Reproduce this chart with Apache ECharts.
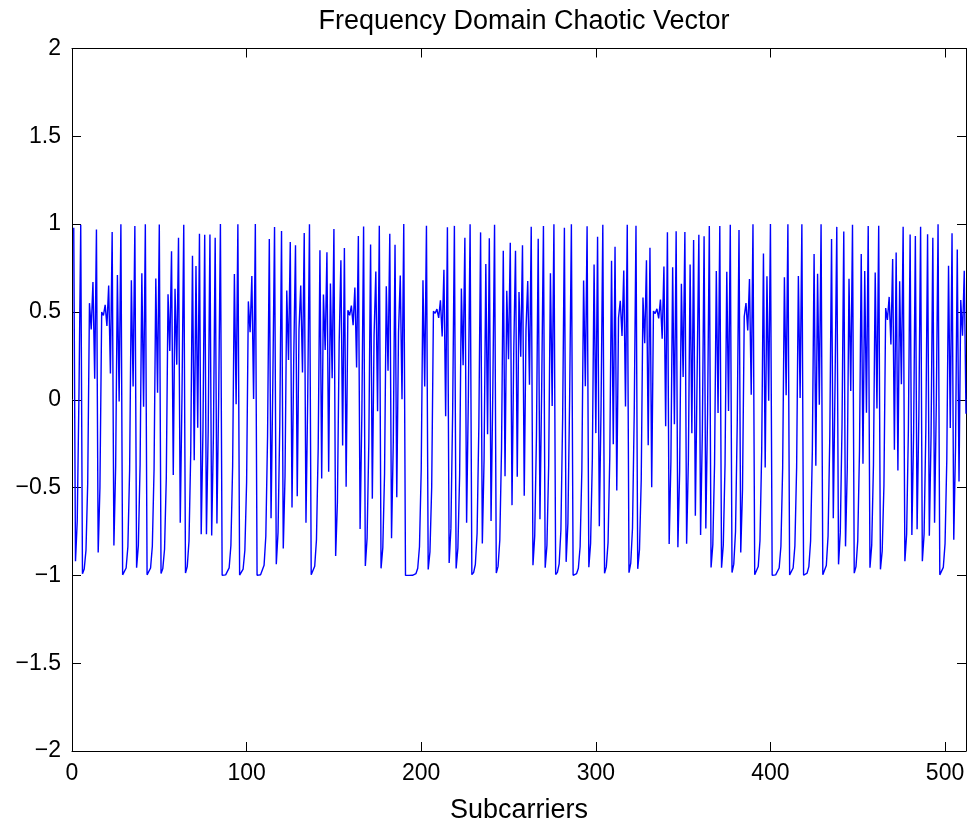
<!DOCTYPE html>
<html>
<head>
<meta charset="utf-8">
<title>Frequency Domain Chaotic Vector</title>
<script src="https://cdn.jsdelivr.net/npm/echarts@6/dist/echarts.min.js"></script>
<style>
  html, body { margin: 0; padding: 0; background: #ffffff; }
  #chart { width: 972px; height: 829px; }
</style>
</head>
<body>
<div id="chart"></div>
<script>
// Chaotic vector, one value per subcarrier (1..512)
const chaoticValues = [
  0.98, -0.92, -0.69, 0.04, 0.997, -0.991, -0.964, -0.858, -0.474, 0.55,
  0.40, 0.67, 0.12, 0.97, -0.87, -0.50, 0.50, 0.48, 0.54, 0.42,
  0.65, 0.15, 0.955, -0.83, -0.38, 0.71, -0.01, 0.999, -0.997, -0.99,
  -0.958, -0.837, -0.40, 0.68, 0.075, 0.989, -0.956, -0.83, -0.37, 0.72,
  -0.04, 0.999, -0.997, -0.9895, -0.958, -0.835, -0.394, 0.69, 0.04, 0.9975,
  -0.99, -0.9615, -0.851, -0.447, 0.60, 0.278, 0.845, -0.429, 0.632, 0.20,
  0.923, -0.70, 0.03, 0.997, -0.987, -0.95, -0.806, -0.30, 0.82, -0.345,
  0.762, -0.16, 0.945, -0.766, -0.174, 0.94, -0.766, -0.174, 0.9415, -0.773,
  -0.196, 0.923, -0.705, 0.005, 1.0, -0.9998, -0.9993, -0.997, -0.989, -0.957,
  -0.83, -0.377, 0.716, -0.025, 0.9994, -0.998, -0.991, -0.964, -0.857, -0.469,
  0.56, 0.384, 0.705, 0.005, 1.0, -0.9998, -0.9991, -0.9964, -0.9856, -0.943,
  -0.777, -0.206, 0.915, -0.675, 0.089, 0.984, -0.937, -0.755, -0.14, 0.961,
  -0.847, -0.435, 0.622, 0.226, 0.898, -0.614, 0.245, 0.88, -0.55, 0.40,
  0.65, 0.155, 0.95, -0.70, 0.02, 0.999, -0.997, -0.987, -0.948, -0.798,
  -0.274, 0.851, -0.448, 0.599, 0.283, 0.84, -0.41, 0.6625, 0.122, 0.972,
  -0.89, -0.583, 0.321, 0.794, -0.26, 0.864, -0.4955, 0.509, 0.481, 0.536,
  0.425, 0.639, 0.184, 0.932, -0.736, -0.083, 0.986, -0.946, -0.788, -0.241,
  0.884, -0.563, 0.367, 0.73, -0.066, 0.991, -0.96, -0.843, -0.421, 0.646,
  0.165, 0.9455, -0.788, -0.243, 0.882, -0.555, 0.383, 0.707, 0.003, 1.0,
  -1.0, -1.0, -1.0, -0.9998, -0.9994, -0.9974, -0.9898, -0.9593, -0.837, -0.40,
  0.68, 0.075, 0.991, -0.966, -0.866, -0.498, 0.504, 0.492, 0.516, 0.466,
  0.566, 0.36, 0.74, -0.094, 0.982, -0.93, -0.731, -0.07, 0.99, -0.961,
  -0.845, -0.428, 0.634, 0.196, 0.923, -0.70, 0.02, 0.999, -0.996, -0.984,
  -0.938, -0.76, -0.152, 0.953, -0.818, -0.337, 0.773, -0.196, 0.92, -0.69,
  0.05, 0.997, -0.987, -0.949, -0.80, -0.276, 0.848, -0.436, 0.62, 0.23,
  0.894, -0.60, 0.28, 0.848, -0.439, 0.614, 0.2455, 0.8795, -0.547, 0.40,
  0.676, 0.085, 0.985, -0.942, -0.775, -0.204, 0.9165, -0.68, 0.074, 0.989,
  -0.956, -0.829, -0.374, 0.72, -0.035, 0.999, -0.9957, -0.983, -0.934, -0.742,
  -0.10, 0.98, -0.923, -0.704, 0.009, 0.9998, -0.9994, -0.9974, -0.9898, -0.9593,
  -0.837, -0.40, 0.6795, 0.0765, 0.9883, -0.9535, -0.818, -0.339, 0.77, -0.19,
  0.9276, -0.7208, -0.039, 0.997, -0.9879, -0.9518, -0.8133, -0.3226, 0.7918, -0.254,
  0.8706, -0.516, 0.467, 0.564, 0.363, 0.7357, -0.039, 0.997, -0.985, -0.9306,
  -0.7318, -0.0707, 0.9907, -0.9629, -0.8535, -0.457, 0.5825, 0.3213, 0.7936, -0.2595,
  0.8653, -0.4975, 0.505, 0.491, 0.518, 0.4631, 0.5711, 0.3476, 0.7584, -0.151,
  0.9544, -0.8216, -0.35, 0.755, -0.14, 0.96, -0.84, -0.41, 0.66, 0.13,
  0.955, -0.82, -0.345, 0.77, -0.19, 0.91, -0.66, 0.13, 0.94, -0.77,
  -0.186, 0.931, -0.733, -0.075, 0.9887, -0.955, -0.826, -0.365, 0.733, -0.075,
  0.989, -0.956, -0.827, -0.368, 0.729, -0.064, 0.996, -0.984, -0.936, -0.751,
  -0.129, 0.967, -0.87, -0.513, 0.474, 0.55, 0.395, 0.687, 0.028, 0.9992,
  -0.9968, -0.9874, -0.95, -0.803, -0.29, 0.832, -0.386, 0.703, -0.006, 1.0,
  -0.9998, -0.9993, -0.9974, -0.9895, -0.958, -0.834, -0.389, 0.698, 0.026, 0.9993,
  -0.9973, -0.9894, -0.958, -0.832, -0.385, 0.704, 0.01, 0.9998, -0.9992, -0.9969,
  -0.9875, -0.95, -0.804, -0.292, 0.83, -0.376, 0.717, -0.028, 0.9991, -0.9964,
  -0.9857, -0.9435, -0.7766, -0.2058, 0.9153, -0.6751, 0.0886, 0.9843, -0.9372, -0.7566,
  -0.1451, 0.9579, -0.8348, -0.3944, 0.6892, 0.05, 0.9969, -0.9874, -0.95, -0.8033,
  -0.2915, 0.83, -0.365, 0.7333, -0.0745, 0.9889, -0.956, -0.828, -0.371, 0.7246,
  -0.05, 0.9912, -0.9656, -0.8627, -0.4888, 0.5221, 0.455, 0.5855, 0.315, 0.8015,
  -0.285, 0.8378, -0.403, 0.6752, 0.0877, 0.9846, -0.92, -0.7655, -0.172, 0.9407,
  -0.7697, -0.184, 0.9323, -0.7376, -0.087, 0.9848, -0.92, -0.7649, -0.171, 0.9417,
  -0.7737, -0.1975, 0.922, -0.70, -0.02, 0.9993, -0.9971, -0.9885, -0.9543, -0.8194,
  -0.3428, 0.7623, -0.161, 0.9479, -0.7966, -0.269, 0.8558, -0.465, 0.5674, 0.364,
  0.735, -0.08
];

// Subcarrier indices 1..N
const subcarriers = chaoticValues.map((_, i) => i + 1);

// Axis ticks
const xTicks = [0, 100, 200, 300, 400, 500];
const yTicks = [-2, -1.5, -1, -0.5, 0, 0.5, 1, 1.5, 2];

const titleText = 'Frequency Domain Chaotic Vector';
const xLabelText = 'Subcarriers';

const FONT = 'Liberation Sans, Arial, Helvetica, sans-serif';
const fmtY = v => String(v).replace('-', '\u2212');

const tickStyle = { inside: true, length: 9, lineStyle: { color: '#000', width: 1 } };
const axisLineStyle = { show: true, onZero: false, lineStyle: { color: '#000', width: 1 } };

const chart = echarts.init(document.getElementById('chart'), null, { renderer: 'canvas' });

chart.setOption({
  animation: false,
  backgroundColor: '#ffffff',
  title: {
    text: titleText,
    left: 519,
    textAlign: 'center',
    top: 3,
    textStyle: { fontFamily: FONT, fontSize: 27, fontWeight: 'normal', color: '#000' }
  },
  grid: { left: 72, right: 6, top: 48.5, bottom: 75, containLabel: false },
  xAxis: [
    {
      type: 'value', min: 0, max: 512, interval: 100,
      position: 'bottom',
      axisLine: axisLineStyle,
      axisTick: tickStyle,
      splitLine: { show: false },
      axisLabel: {
        fontFamily: FONT, fontSize: 23, color: '#000', margin: 11,
        showMaxLabel: false,
        formatter: v => (xTicks.indexOf(v) >= 0 ? String(v) : '')
      },
      name: xLabelText,
      nameLocation: 'middle',
      nameGap: 46,
      nameTextStyle: { fontFamily: FONT, fontSize: 27, color: '#000' }
    },
    {
      type: 'value', min: 0, max: 512, interval: 100,
      position: 'top',
      axisLine: axisLineStyle,
      axisTick: tickStyle,
      splitLine: { show: false },
      axisLabel: { show: false }
    }
  ],
  yAxis: [
    {
      type: 'value', min: -2, max: 2, interval: 0.5,
      position: 'left',
      axisLine: axisLineStyle,
      axisTick: tickStyle,
      splitLine: { show: false },
      axisLabel: {
        fontFamily: FONT, fontSize: 23, color: '#000', margin: 11,
        padding: [5, 0, 0, 0],
        formatter: v => (yTicks.indexOf(v) >= 0 ? fmtY(v) : '')
      }
    },
    {
      type: 'value', min: -2, max: 2, interval: 0.5,
      position: 'right',
      axisLine: axisLineStyle,
      axisTick: tickStyle,
      splitLine: { show: false },
      axisLabel: { show: false }
    }
  ],
  series: [
    {
      type: 'line',
      xAxisIndex: 0,
      yAxisIndex: 0,
      data: subcarriers.map((x, i) => [x, chaoticValues[i]]),
      showSymbol: false,
      symbol: 'none',
      lineStyle: { color: '#0000ff', width: 1.4 },
      itemStyle: { color: '#0000ff' }
    }
  ]
});
</script>
</body>
</html>
